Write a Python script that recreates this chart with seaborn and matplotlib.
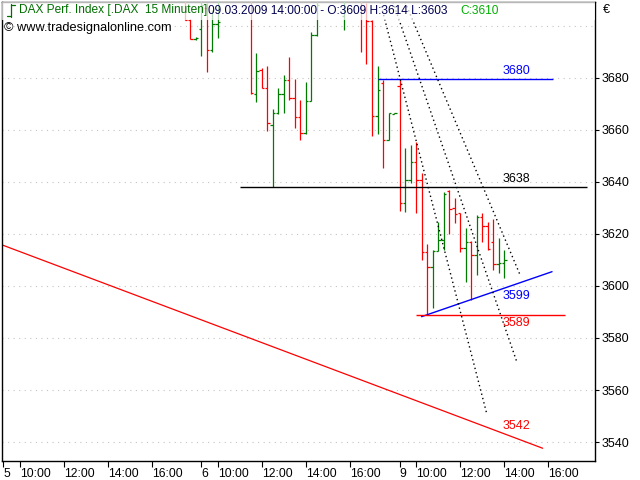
import numpy as np
import pandas as pd
import matplotlib
matplotlib.use("Agg")
import matplotlib.pyplot as plt
from matplotlib.lines import Line2D
import seaborn as sns

sns.set_theme(style="white")
plt.rcParams["font.family"] = ["Liberation Sans", "DejaVu Sans"]

# ── data: 15-minute OHLC bars (bar index counted from 05.03 09:15) ──
bar_idx = list(range(33, 92))
opens = [3712, 3702.3, 3694.9, 3698.7, 3707, 3690.8, 3700.8,
         3712, 3716, 3720, 3718, 3714,
         3712, 3673.7, 3683, 3676, 3662, 3666.4, 3673.7, 3679.2, 3672.2, 3665.1, 3658.7, 3671.2, 3696.5,
         3712, 3718, 3722, 3718,
         3704, 3712, 3716,
         3712, 3706, 3702, 3665.4, 3678, 3656.2, 3666.3,
         3677, 3632, 3640.8, 3647.6, 3640.8, 3613.2, 3607.4, 3613.6, 3617.5, 3636.4, 3629.9,
         3628, 3614.5, 3617, 3612, 3626.7, 3623.1, 3617, 3608.5, 3609]
highs = [3715, 3702.8, 3695.6, 3712, 3709, 3706, 3711,
         3718, 3722, 3724, 3721, 3716,
         3714, 3689.5, 3684, 3684.7, 3668, 3676, 3681.2, 3688, 3679.6, 3671.5, 3678.6, 3697.5, 3712,
         3720, 3725, 3726, 3720,
         3714, 3718, 3719,
         3714, 3709, 3702.3, 3684.7, 3679.2, 3666.6, 3666.6,
         3679.2, 3653, 3654.2, 3655.5, 3643.3, 3616, 3613.8, 3624.7, 3636.3, 3637, 3633.7,
         3628.2, 3622.2, 3617.2, 3627.3, 3628, 3624.7, 3625.6, 3618.5, 3614]
lows = [3702.3, 3694.9, 3694.6, 3688.6, 3682.4, 3690.1, 3695.3,
        3710, 3714, 3716, 3712, 3710,
        3673.7, 3670.9, 3676, 3659.7, 3638, 3666.2, 3666.4, 3671.5, 3660.6, 3656.2, 3658.5, 3671, 3696,
        3710, 3715, 3716, 3711,
        3698.5, 3710, 3711,
        3689.9, 3685.3, 3657.8, 3658.5, 3645.3, 3656, 3666.1,
        3629, 3628.6, 3639.5, 3628, 3610, 3588.8, 3591.7, 3613.5, 3614, 3620, 3624.1,
        3613.2, 3601.7, 3594.6, 3604.2, 3617, 3613.8, 3606, 3605, 3603]
closes = [3702.3, 3694.9, 3695.2, 3708, 3690.8, 3700.8, 3701.7,
          3716, 3720, 3718, 3714, 3712,
          3674.3, 3682.8, 3676, 3662.6, 3666.4, 3673.7, 3679.2, 3672.2, 3665.1, 3658.7, 3671.2, 3696.5, 3708,
          3718, 3722, 3718, 3713,
          3710, 3716, 3713,
          3706, 3702, 3665.4, 3675.4, 3656.2, 3666.4, 3666.5,
          3632, 3640.8, 3647.6, 3640.8, 3613.2, 3607.4, 3613.5, 3617.5, 3635.5, 3629.5, 3627.6,
          3614.5, 3617, 3612, 3626.7, 3623.1, 3614.2, 3608.5, 3609, 3610]

# x-axis: day starts and session hours (bar offsets inside a day)
day_start = [0, 36, 72]
day_names = ["5", "6", "9"]
hour_offset = [3, 11, 19, 27]
hour_names = ["10:00", "12:00", "14:00", "16:00"]

price_ticks = [3540, 3560, 3580, 3600, 3620, 3640, 3660, 3680]
grid_levels = [3540, 3560, 3580, 3600, 3620, 3640, 3660, 3680, 3700]

# drawing tools (bar index, price)
red_trend_x = [-0.2, 98.0]
red_trend_y = [3615.8, 3537.6]
blue_trend_x = [76.0, 99.7]
blue_trend_y = [3588.2, 3605.5]
res_3680 = ([68.0, 99.8], 3679.5)
res_3638 = ([43.0, 106.0], 3638.0)
sup_3589 = ([75.0, 102.0], 3588.9)
fan_x = [[68.5, 87.9], [70.8, 93.3], [73.0, 93.9]]
fan_y = [[3709.2, 3550.4], [3709.2, 3570.8], [3709.2, 3604.2]]

level_labels = ["3680", "3638", "3599", "3589", "3542"]
level_values = [3679.5, 3638.0, 3599.2, 3588.9, 3542.9]
level_colors = ["#0000ff", "#000000", "#0000ff", "#ff0000", "#ff0000"]
level_above = [True, True, False, False, True]

UP = "#007a00"
DOWN = "#ff0000"

bars = pd.DataFrame({"i": bar_idx, "open": opens, "high": highs,
                     "low": lows, "close": closes})
bars["color"] = np.where(bars["close"] >= bars["open"], UP, DOWN)

fig = plt.figure(figsize=(6.4, 4.8), dpi=100)
ax = fig.add_axes([2 / 640, 1 - 461 / 480, 593 / 640, 459 / 480])
ax.set_xlim(-0.2, 107.5)
ax.set_ylim(3532.7, 3709.2)

for lvl in grid_levels:
    ax.axhline(lvl, color="#c4c4c4", lw=0.8, ls=(0, (1, 4)), zorder=0)

# OHLC bars
tick = 0.45
ax.vlines(bars["i"], bars["low"], bars["high"], colors=bars["color"], lw=0.9, zorder=3)
ax.hlines(bars["open"], bars["i"] - tick, bars["i"], colors=bars["color"], lw=0.9, zorder=3)
ax.hlines(bars["close"], bars["i"], bars["i"] + tick, colors=bars["color"], lw=0.9, zorder=3)

# trend lines
sns.lineplot(x=red_trend_x, y=red_trend_y, ax=ax, color="#ff0000", lw=0.9, estimator=None, zorder=2)
sns.lineplot(x=blue_trend_x, y=blue_trend_y, ax=ax, color="#0000ff", lw=1.0, estimator=None, zorder=4)
for (xs, lvl), col in zip([res_3680, res_3638, sup_3589], ["#0000ff", "#000000", "#ff0000"]):
    ax.hlines(lvl, xs[0], xs[1], colors=col, lw=1.0, zorder=4)
for xs, ys in zip(fan_x, fan_y):
    ax.plot(xs, ys, color="black", lw=1.0, ls=(0, (1, 2.2)), zorder=4)

for lab, val, col, above in zip(level_labels, level_values, level_colors, level_above):
    ax.text(90.8, val + (0.8 if above else -0.9), lab, color=col, fontsize=9,
            ha="left", va="bottom" if above else "top", zorder=5)

# fade band behind the header
ax.axhspan(3702.3, 3709.2, color="white", alpha=0.72, lw=0, zorder=6)

# axes styling
for s in ax.spines.values():
    s.set_color("black")
    s.set_linewidth(1.0)
ax.yaxis.tick_right()
ax.set_yticks(price_ticks)
ax.set_yticklabels([str(p) for p in price_ticks])
ax.tick_params(axis="y", direction="out", length=3, width=0.8, pad=2,
               labelsize=9, colors="black", right=True, left=False)

xt, xl = [], []
for d, name in zip(day_start, day_names):
    xt.append(d)
    xl.append(name)
    for off, hn in zip(hour_offset, hour_names):
        xt.append(d + off)
        xl.append(hn)
ax.set_xticks(xt)
ax.set_xticklabels(xl)
ax.tick_params(axis="x", direction="out", length=4, width=0.8, pad=1,
               labelsize=8.7, colors="black", bottom=True)
for lbl in ax.get_xticklabels():
    lbl.set_ha("left")
ax.set_xlabel("")
ax.set_ylabel("")

# header
fs = 8.6
fig.text(19 / 640, 1 - 10.5 / 480, "DAX Perf. Index [.DAX  15 Minuten]",
         color="#006f00", fontsize=fs, va="center", ha="left")
fig.text(208 / 640, 1 - 10.5 / 480, "09.03.2009 14:00:00 - O:3609 H:3614 L:3603",
         color="#000050", fontsize=fs, va="center", ha="left")
fig.text(460 / 640, 1 - 10.5 / 480, "C:3610", color="#00b000", fontsize=fs,
         va="center", ha="left")
fig.text(4 / 640, 1 - 28 / 480, "\u00a9 www.tradesignalonline.com", color="black",
         fontsize=9.2, va="center", ha="left")
fig.text(603 / 640, 1 - 10 / 480, "\u20ac", color="black", fontsize=9, va="center", ha="left")

# small bar icon in header
icon = [((11, 11), (4, 17)), ((7, 11), (16, 16)), ((11, 15), (5, 5))]
for xs, ys in icon:
    fig.add_artist(Line2D([x / 640 for x in xs], [1 - y / 480 for y in ys],
                          color="#006f00", lw=0.9))

fig.savefig("out.png", dpi=100)
